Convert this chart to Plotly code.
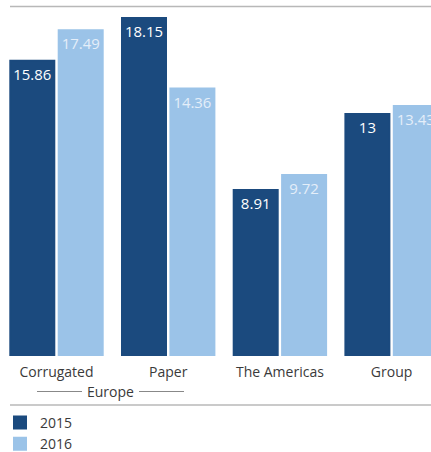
import plotly.graph_objects as go

categories = ["Corrugated", "Paper", "The Americas", "Group"]
values_2015 = [15.86, 18.15, 8.91, 13]
values_2016 = [17.49, 14.36, 9.72, 13.43]
series_names = ["2015", "2016"]

DARK = "#1b4a7e"
LIGHT = "#9bc3e8"
GREY = "#b8b8b8"
TXT = "#3a3a3a"
FONT = "Open Sans"

W, H = 431, 452
top_px, base_px = 10, 356
ph = base_px - top_px

def yp(px):
    return (base_px - px) / ph

def xp(px):
    return px / W

fig = go.Figure()
fig.add_trace(go.Bar(
    x=categories, y=values_2015, name=series_names[0],
    marker=dict(color=DARK, line=dict(color=DARK, width=2)),
    text=[f"{v:g}" for v in values_2015], textposition="inside",
    insidetextanchor="end", textangle=0,
    textfont=dict(color="white", size=15, family=FONT),
))
fig.add_trace(go.Bar(
    x=categories, y=values_2016, name=series_names[1],
    marker=dict(color=LIGHT, line=dict(color=LIGHT, width=2)),
    text=[f"{v:g}" for v in values_2016], textposition="inside",
    insidetextanchor="end", textangle=0,
    textfont=dict(color="#e4eef9", size=15, family=FONT),
))

px_per_cat = 111.7
r0 = -56.5 / px_per_cat
r1 = r0 + W / px_per_cat

shapes = [
    dict(type="line", xref="paper", yref="paper", x0=xp(10), x1=1.0,
         y0=yp(6.5), y1=yp(6.5), line=dict(color=GREY, width=1.5)),
    dict(type="line", xref="paper", yref="paper", x0=xp(10), x1=1.0,
         y0=yp(405), y1=yp(405), line=dict(color=GREY, width=1.5)),
    dict(type="line", xref="paper", yref="paper", x0=xp(37), x1=xp(82),
         y0=yp(391.5), y1=yp(391.5), line=dict(color="#888888", width=1)),
    dict(type="line", xref="paper", yref="paper", x0=xp(139), x1=xp(184),
         y0=yp(391.5), y1=yp(391.5), line=dict(color="#888888", width=1)),
]

fig.update_layout(
    width=W, height=H,
    margin=dict(l=0, r=0, t=top_px, b=H - base_px, pad=0, autoexpand=False),
    paper_bgcolor="white", plot_bgcolor="white",
    barmode="group", bargap=0.1334, bargroupgap=0.0909,
    font=dict(family=FONT, size=14, color=TXT),
    xaxis=dict(range=[r0, r1], showgrid=False, showline=False, zeroline=False,
               ticks="", ticklabelstandoff=6,
               tickfont=dict(size=14, color=TXT, family=FONT)),
    yaxis=dict(range=[0, ph / 18.62], visible=False, showgrid=False),
    showlegend=True,
    legend=dict(x=0, xanchor="left", y=yp(407), yanchor="top",
                orientation="v", font=dict(size=14, color=TXT, family=FONT),
                tracegroupgap=0, bgcolor="rgba(0,0,0,0)"),
    shapes=shapes,
    annotations=[dict(text="Europe", xref="paper", yref="paper",
                      x=xp(110.5), y=yp(391.5), showarrow=False,
                      font=dict(size=14, color=TXT, family=FONT),
                      xanchor="center", yanchor="middle")],
)

fig.write_html("out.html", config={"displayModeBar": False},
               post_script="document.body.style.margin='0';")
